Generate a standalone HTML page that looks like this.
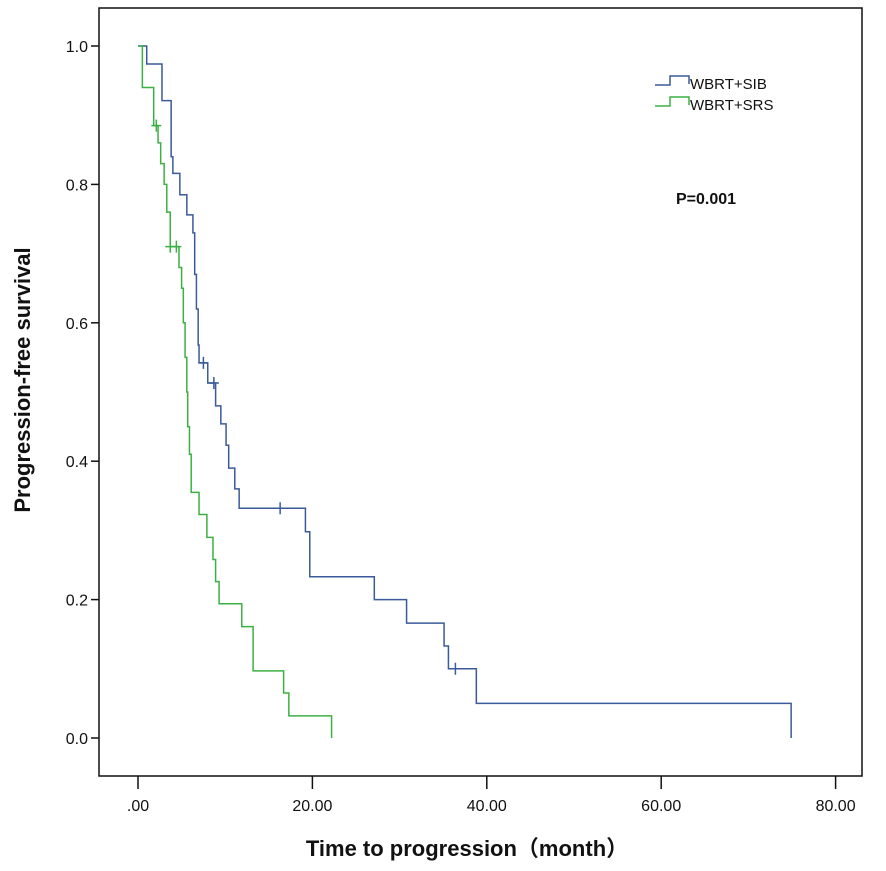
<!DOCTYPE html>
<html><head><meta charset="utf-8"><style>
body{margin:0;background:#fff}
svg{display:block;font-family:"Liberation Sans","Noto Sans CJK SC",sans-serif}
</style></head><body>
<svg id="chart" width="886" height="871">
<rect x="99" y="8" width="763" height="768" fill="none" stroke="#111" stroke-width="1.5"/>
<g id="axes"></g>
<g id="series"></g>
<g>
<polyline points="655,85 670,85 670,76 689,76 689,84" fill="none" stroke="#3a5a9a" stroke-width="1.5"/>
<text x="690" y="89" font-size="15" fill="#111">WBRT+SIB</text>
<polyline points="655,106 670,106 670,97 689,97 689,105" fill="none" stroke="#3cb043" stroke-width="1.5"/>
<text x="690" y="110" font-size="15" fill="#111">WBRT+SRS</text>
</g>
<text x="676" y="204" font-size="16" font-weight="bold" fill="#111">P=0.001</text>
<text x="467" y="856" font-size="22" font-weight="bold" text-anchor="middle" fill="#111">Time to progression（month）</text>
<text transform="translate(30,380) rotate(-90)" font-size="22" font-weight="bold" text-anchor="middle" fill="#111">Progression-free survival</text>
</svg>
<script>
const xTicks=[0,20,40,60,80];
const xTickLabels=[".00","20.00","40.00","60.00","80.00"];
const yTicks=[0,0.2,0.4,0.6,0.8,1.0];
const yTickLabels=["0.0","0.2","0.4","0.6","0.8","1.0"];
// step series: times and survival after event
const sibTimes=[0,1.0,2.75,3.8,4.0,4.8,5.6,6.3,6.5,6.7,6.9,7.0,8.0,8.9,9.5,10.1,10.4,11.1,11.6,19.2,19.7,27.1,30.8,35.1,35.6,38.8,74.9];
const sibSurv=[1.0,0.974,0.921,0.84,0.816,0.785,0.756,0.73,0.67,0.62,0.568,0.542,0.513,0.48,0.454,0.423,0.39,0.36,0.332,0.298,0.233,0.2,0.166,0.133,0.1,0.05,0];
const sibCensor=[[7.5,0.542],[8.7,0.513],[16.3,0.332],[36.4,0.1]];
const srsTimes=[0,0.5,1.8,2.3,2.6,3.0,3.3,3.7,4.7,5.0,5.2,5.4,5.6,5.7,5.9,6.1,7.0,7.9,8.6,8.9,9.3,11.9,13.2,16.7,17.3,22.2];
const srsSurv=[1.0,0.94,0.885,0.86,0.83,0.80,0.76,0.71,0.68,0.65,0.6,0.55,0.5,0.45,0.41,0.355,0.323,0.29,0.258,0.226,0.194,0.161,0.097,0.065,0.032,0];
const srsCensor=[[2.1,0.885],[3.7,0.71],[4.4,0.71]];

const X=v=>138+v*8.72, Y=v=>738-v*692;
const NS="http://www.w3.org/2000/svg";
function mk(tag,attrs,parent){const e=document.createElementNS(NS,tag);for(const k in attrs)e.setAttribute(k,attrs[k]);parent.appendChild(e);return e;}
const ax=document.getElementById('axes');
xTicks.forEach((t,i)=>{
 const l=mk('line',{x1:X(t),x2:X(t),y1:776,y2:789,stroke:'#111','stroke-width':1.5},ax);
 
 
 const tx=mk('text',{x:X(t),y:811,'font-size':16,'text-anchor':'middle',fill:'#111'},ax);
 tx.textContent=xTickLabels[i];
 
 
});
yTicks.forEach((t,i)=>{
 const l=mk('line',{x1:91,x2:99,y1:Y(t),y2:Y(t),stroke:'#111','stroke-width':1.5},ax);
 
 
 const tx=mk('text',{x:88,y:Y(t)+6,'font-size':16,'text-anchor':'end',fill:'#111'},ax);
 tx.textContent=yTickLabels[i];
 
 
});
const sg=document.getElementById('series');
function drawSeries(times,surv,cens,color,name){
 let d='M'+X(times[0])+','+Y(surv[0]);
 for(let i=1;i<times.length;i++){d+=' H'+X(times[i])+' V'+Y(surv[i]);}
 const p=mk('path',{d:d,fill:'none',stroke:color,'stroke-width':1.5},sg);
 
 
 cens.forEach(c=>{
  const m=mk('path',{d:'M'+(X(c[0])-5)+','+Y(c[1])+' h10 M'+X(c[0])+','+(Y(c[1])-6)+' v12',stroke:color,'stroke-width':1.5},sg);
  
  
 });
}
drawSeries(sibTimes,sibSurv,sibCensor,'#3a5a9a','sib');
drawSeries(srsTimes,srsSurv,srsCensor,'#3cb043','srs');
</script>
</body></html>
